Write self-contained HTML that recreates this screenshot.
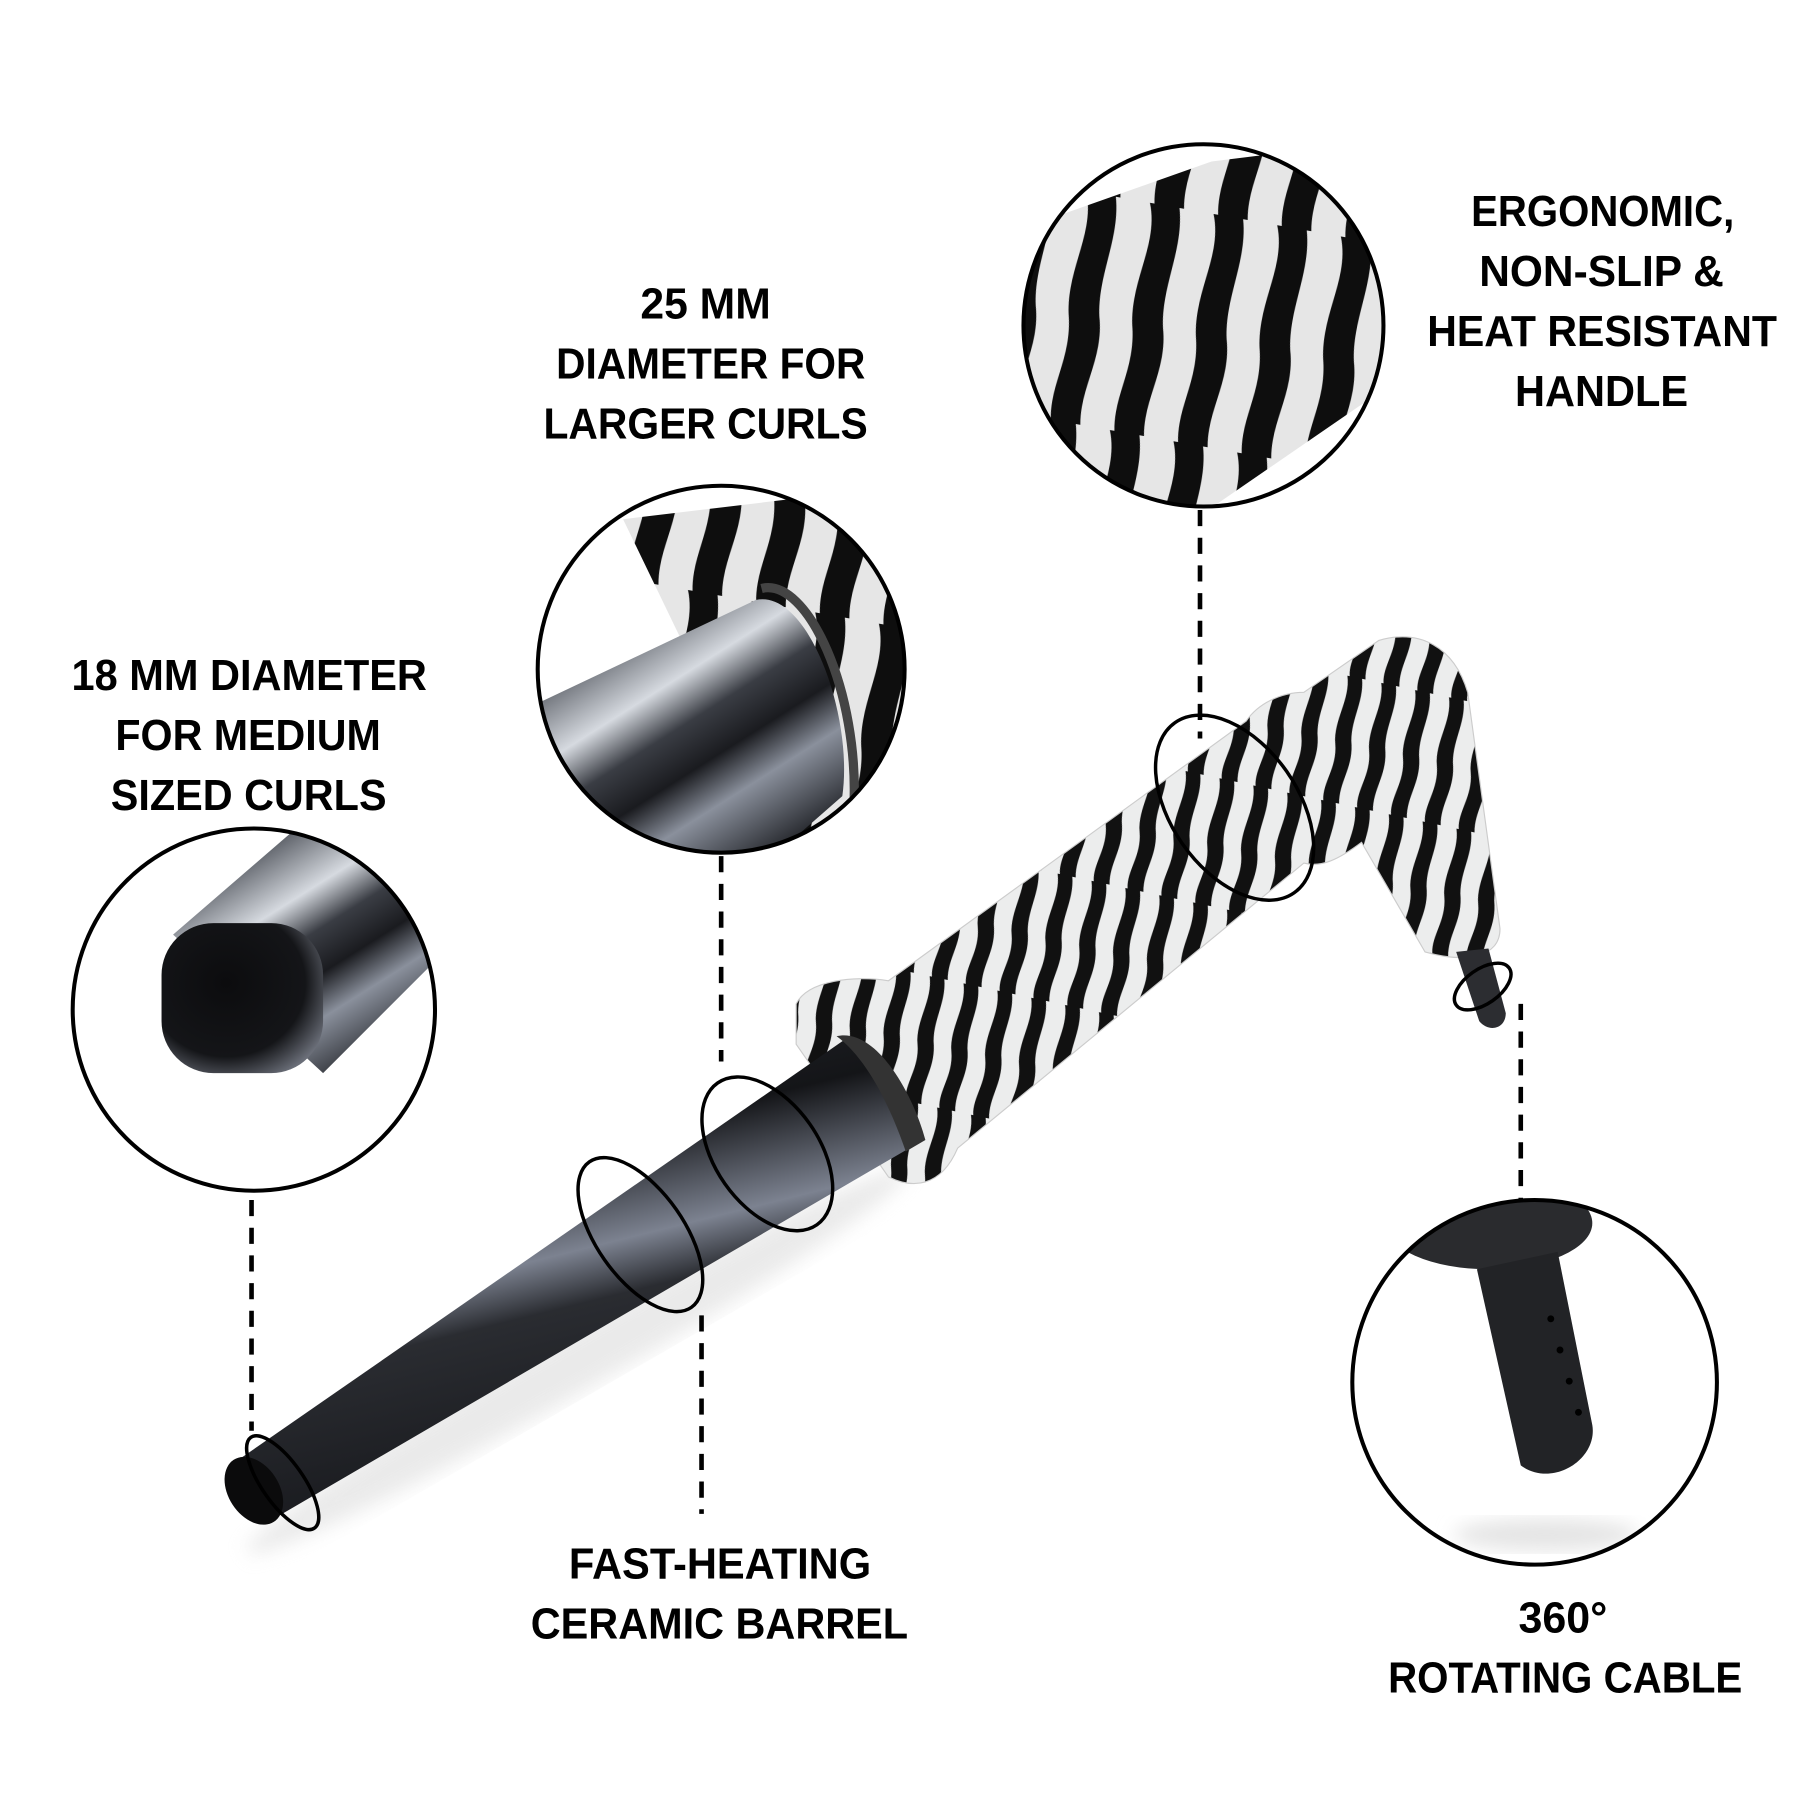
<!DOCTYPE html>
<html><head><meta charset="utf-8"><style>html,body{margin:0;padding:0;background:#fff}svg{display:block}</style></head><body>
<svg width="1800" height="1800" viewBox="0 0 1560 1560" xmlns="http://www.w3.org/2000/svg">
<defs>
<linearGradient id="bar" x1="0" y1="0" x2="0.35" y2="1">
<stop offset="0" stop-color="#2a2d33"/><stop offset="0.35" stop-color="#141518"/><stop offset="0.55" stop-color="#7c8290"/><stop offset="0.65" stop-color="#2a2c31"/><stop offset="1" stop-color="#15161a"/></linearGradient>
<linearGradient id="bar2" gradientTransform="rotate(-35 .5 .5)" x1="0" y1="0" x2="0" y2="1">
<stop offset="0" stop-color="#3a3e46"/><stop offset="0.3" stop-color="#d6dae0"/><stop offset="0.45" stop-color="#3a3d44"/><stop offset="0.6" stop-color="#1a1b1f"/><stop offset="0.75" stop-color="#8a909c"/><stop offset="1" stop-color="#25272c"/></linearGradient>
<radialGradient id="tip" cx="0.4" cy="0.4" r="0.7"><stop offset="0" stop-color="#0c0c0e"/><stop offset="0.7" stop-color="#141518"/><stop offset="1" stop-color="#6a6e78"/></radialGradient>
<pattern id="zeb" width="30" height="110" patternUnits="userSpaceOnUse" patternTransform="rotate(12)">
<rect width="30" height="110" fill="#eceded"/>
<path d="M4 0 C11 20 0 40 6 60 C12 80 2 95 6 110 L20 110 C16 92 25 78 20 58 C14 38 23 20 17 0 Z" fill="#111"/>
</pattern>
<pattern id="zeb2" width="56" height="200" patternUnits="userSpaceOnUse" patternTransform="rotate(10)">
<rect width="56" height="200" fill="#e6e6e6"/>
<path d="M4 0 C18 35 -2 70 8 110 C16 145 2 170 8 200 L34 200 C28 168 44 140 34 105 C26 70 40 35 30 0 Z" fill="#0e0e0e"/>
</pattern>
<clipPath id="c1"><circle cx="220" cy="875" r="157"/></clipPath>
<clipPath id="c2"><circle cx="625" cy="580" r="159"/></clipPath>
<clipPath id="c3"><ellipse cx="1043" cy="282" rx="156" ry="157"/></clipPath>
<clipPath id="c4"><circle cx="1330" cy="1198" r="158"/></clipPath>
<filter id="bl"><feGaussianBlur stdDeviation="8"/></filter>
</defs>
<rect width="1560" height="1560" fill="#fff"/>

<ellipse cx="500" cy="1180" rx="330" ry="25" fill="#ddd" opacity="0.6" filter="url(#bl)" transform="rotate(-30 500 1180)"/>

<path d="M690 870 C700 850 740 845 770 850 L1080 625 C1090 610 1110 600 1130 600 L1195 555 C1230 545 1260 560 1272 600 L1300 805 C1300 830 1270 835 1235 825 L1180 730 C1160 745 1145 752 1130 748 L830 995 C815 1030 790 1030 770 1020 L690 905 Z" fill="url(#zeb)" stroke="#ccc" stroke-width="1"/>
<path d="M1262 825 L1290 822 L1305 878 C1305 892 1290 895 1282 885 Z" fill="#2c2d31"/>
<path d="M204 1267 L735 899 L795 991 L236 1317 Z" fill="url(#bar)"/>
<ellipse cx="220" cy="1292" rx="22" ry="32" transform="rotate(-33 220 1292)" fill="#0b0b0c"/>
<path d="M725 898 C760 890 792 950 802 988 L785 998 C772 960 752 918 725 898Z" fill="#333"/>

<g fill="none" stroke="#000" stroke-width="3">
<ellipse cx="245" cy="1285" rx="48" ry="18" transform="rotate(55 245 1285)"/>
<ellipse cx="555" cy="1070" rx="77" ry="38" transform="rotate(55 555 1070)"/>
<ellipse cx="665" cy="1000" rx="75" ry="45" transform="rotate(55 665 1000)"/>
<ellipse cx="1070" cy="700" rx="90" ry="55" transform="rotate(55 1070 700)"/>
<ellipse cx="1285" cy="855" rx="28" ry="15" transform="rotate(-35 1285 855)"/>
</g>

<g clip-path="url(#c1)">
<rect x="60" y="715" width="320" height="320" fill="#fff"/>
<path d="M150 810 L260 715 L390 715 L390 820 L280 930 Z" fill="url(#bar2)"/>
<rect x="140" y="800" width="140" height="130" rx="45" fill="url(#tip)"/>
</g>
<circle cx="220" cy="875" r="157" fill="none" stroke="#000" stroke-width="3.5"/>

<g clip-path="url(#c2)">
<rect x="460" y="420" width="330" height="330" fill="#fff"/>
<path d="M540 450 L790 420 L790 740 L680 740 Z" fill="url(#zeb2)"/>
<path d="M465 610 L655 520 C700 510 740 620 730 690 L650 760 L465 760 Z" fill="url(#bar2)"/>
<path d="M660 510 C700 500 745 600 740 700" fill="none" stroke="#444" stroke-width="8"/>
</g>
<circle cx="625" cy="580" r="159" fill="none" stroke="#000" stroke-width="3.5"/>

<g clip-path="url(#c3)">
<rect x="880" y="120" width="330" height="330" fill="#fff"/>
<path d="M880 200 L1050 140 L1210 120 L1210 330 L1050 440 L880 440 Z" fill="url(#zeb2)"/>
</g>
<ellipse cx="1043" cy="282" rx="156" ry="157" fill="none" stroke="#000" stroke-width="3.5"/>

<g clip-path="url(#c4)">
<rect x="1170" y="1040" width="320" height="320" fill="#fff"/>
<ellipse cx="1290" cy="1060" rx="90" ry="40" fill="#2a2b2e"/>
<path d="M1280 1100 L1350 1085 L1380 1235 C1385 1265 1345 1290 1318 1270 Z" fill="#222326"/>
<ellipse cx="1340" cy="1330" rx="80" ry="14" fill="#e5e5e5" filter="url(#bl)"/>
<circle cx="1344" cy="1143" r="3" fill="#000"/><circle cx="1352" cy="1170" r="3" fill="#000"/><circle cx="1360" cy="1197" r="3" fill="#000"/><circle cx="1368" cy="1224" r="3" fill="#000"/>
</g>
<circle cx="1330" cy="1198" r="158" fill="none" stroke="#000" stroke-width="3.5"/>

<g stroke="#000" stroke-width="4" stroke-dasharray="14 10">
<line x1="218" y1="1040" x2="218" y2="1240"/>
<line x1="625" y1="742" x2="625" y2="920"/>
<line x1="608" y1="1140" x2="608" y2="1312"/>
<line x1="1040" y1="442" x2="1040" y2="640"/>
<line x1="1318" y1="870" x2="1318" y2="1040"/>
</g>

<g font-family="'Liberation Sans Narrow','Liberation Sans',sans-serif" font-weight="bold" font-size="38" fill="#000">
<text x="555" y="276" textLength="113" lengthAdjust="spacingAndGlyphs">25 MM</text>
<text x="482" y="328" textLength="268" lengthAdjust="spacingAndGlyphs">DIAMETER FOR</text>
<text x="471" y="380" textLength="281" lengthAdjust="spacingAndGlyphs">LARGER CURLS</text>
<text x="62" y="598" textLength="308" lengthAdjust="spacingAndGlyphs">18 MM DIAMETER</text>
<text x="100" y="650" textLength="230" lengthAdjust="spacingAndGlyphs">FOR MEDIUM</text>
<text x="96" y="702" textLength="239" lengthAdjust="spacingAndGlyphs">SIZED CURLS</text>
<text x="1275" y="196" textLength="228" lengthAdjust="spacingAndGlyphs">ERGONOMIC,</text>
<text x="1282" y="248" textLength="212" lengthAdjust="spacingAndGlyphs">NON-SLIP &amp;</text>
<text x="1237" y="300" textLength="303" lengthAdjust="spacingAndGlyphs">HEAT RESISTANT</text>
<text x="1313" y="352" textLength="150" lengthAdjust="spacingAndGlyphs">HANDLE</text>
<text x="493" y="1368" textLength="262" lengthAdjust="spacingAndGlyphs">FAST-HEATING</text>
<text x="460" y="1420" textLength="327" lengthAdjust="spacingAndGlyphs">CERAMIC BARREL</text>
<text x="1316" y="1415" textLength="77" lengthAdjust="spacingAndGlyphs">360°</text>
<text x="1203" y="1467" textLength="307" lengthAdjust="spacingAndGlyphs">ROTATING CABLE</text>
</g>
</svg>
</body></html>
